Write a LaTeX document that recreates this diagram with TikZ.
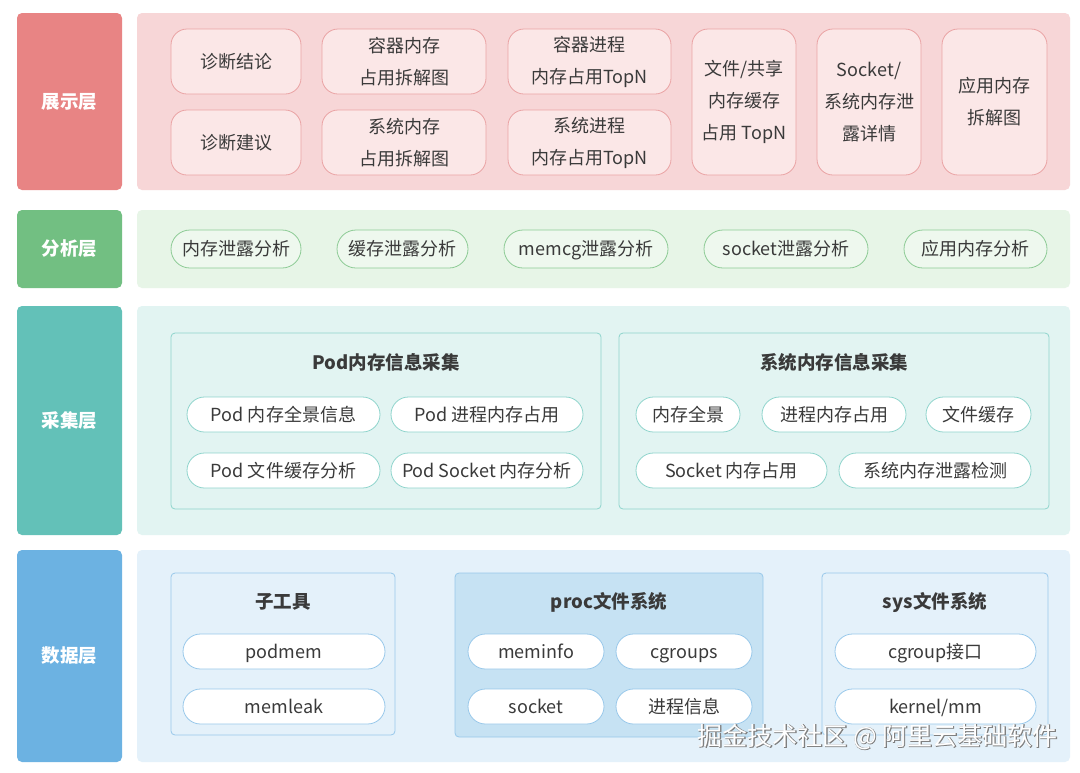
\documentclass[tikz,border=0pt]{standalone}
\usepackage{fontspec}
\setmainfont{Noto Sans CJK SC}
\newfontfamily\wmout{Noto Sans CJK SC}[FakeBold=3]
\usetikzlibrary{positioning}
\definecolor{txt}{HTML}{3A3A3A}
\definecolor{redL}{HTML}{E88484}
\definecolor{redP}{HTML}{F7D6D7}
\definecolor{redB}{HTML}{FBE7E7}
\definecolor{redE}{HTML}{EAA3A4}
\definecolor{grnL}{HTML}{72BF82}
\definecolor{grnP}{HTML}{E7F5E7}
\definecolor{grnB}{HTML}{EEF8EE}
\definecolor{grnE}{HTML}{8DCB95}
\definecolor{tealL}{HTML}{63C1B8}
\definecolor{tealP}{HTML}{E2F4F2}
\definecolor{tealE}{HTML}{8ED4CC}
\definecolor{bluL}{HTML}{6CB2E2}
\definecolor{bluP}{HTML}{E4F1FA}
\definecolor{bluD}{HTML}{C6E2F3}
\definecolor{bluE}{HTML}{98C8EA}
\tikzset{
  f/.style={font=\fontsize{18}{32}\selectfont},
  pf/.style={font=\fontsize{18}{32}\selectfont, text height=15pt, text depth=1.5pt},
  lab/.style={rounded corners=5pt, text=white, inner sep=0pt, minimum width=105,
    font=\bfseries\fontsize{18.5}{22}\selectfont},
  panel/.style={rounded corners=5pt, inner sep=0pt, minimum width=933},
  tbox/.style={draw=redE, fill=redB, line width=0.8pt, rounded corners=16pt, text=txt,
    inner sep=0pt, align=center, f},
  gpill/.style={draw=grnE, fill=grnB, line width=0.8pt, rounded corners=19pt, text=txt,
    inner sep=0pt, minimum height=38, pf},
  tpill/.style={draw=tealE, fill=white, line width=0.8pt, rounded corners=17.5pt, text=txt,
    inner sep=0pt, minimum height=35, pf},
  bpill/.style={draw=bluE, fill=white, line width=0.8pt, rounded corners=17.5pt, text=txt,
    inner sep=0pt, minimum height=35, pf},
  grp/.style={rounded corners=4pt, line width=0.8pt, inner sep=0pt},
  gtitle/.style={text=txt, inner sep=0pt, text height=15pt, text depth=1.5pt,
    font=\bfseries\fontsize{18.5}{22}\selectfont},
}
\begin{document}
\begin{tikzpicture}[x=1pt,y=-1pt]
\useasboundingbox[fill=white] (0,0) rectangle (1080,772);
% layer labels
\node[lab, fill=redL, minimum height=177] (L1) at (69.5,101.5) {展示层};
\node[lab, fill=grnL, minimum height=78] (L2) at (69.5,249) {分析层};
\node[lab, fill=tealL, minimum height=229] (L3) at (69.5,420.5) {采集层};
\node[lab, fill=bluL, minimum height=212] (L4) at (69.5,656) {数据层};
% panels
\node[panel, fill=redP, minimum height=177] (P1) at (603.5,101.5) {};
\node[panel, fill=grnP, minimum height=78] (P2) at (603.5,249) {};
\node[panel, fill=tealP, minimum height=229] (P3) at (603.5,420.5) {};
\node[panel, fill=bluP, minimum height=212] (P4) at (603.5,656) {};
% presentation layer
\node[tbox, minimum width=130, minimum height=65] (a1) at (236,61.5) {诊断结论};
\node[tbox, minimum width=130, minimum height=65] (a2) at (236,142.5) {诊断建议};
\node[tbox, minimum width=164, minimum height=65] (a3) at (404,61.5) {容器内存\\占用拆解图};
\node[tbox, minimum width=164, minimum height=65] (a4) at (404,142.5) {系统内存\\占用拆解图};
\node[tbox, minimum width=163, minimum height=65] (a5) at (589.5,61.5) {容器进程\\内存占用TopN};
\node[tbox, minimum width=163, minimum height=65] (a6) at (589.5,142.5) {系统进程\\内存占用TopN};
\node[tbox, minimum width=104, minimum height=146] (a7) at (744,102) {文件/共享\\内存缓存\\占用 TopN};
\node[tbox, minimum width=104, minimum height=146] (a8) at (869,102) {Socket/\\系统内存泄\\露详情};
\node[tbox, minimum width=105, minimum height=146] (a9) at (994.5,102) {应用内存\\拆解图};
% analysis layer
\node[gpill, minimum width=130] (b1) at (236,249) {内存泄露分析};
\node[gpill, minimum width=131] (b2) at (402.5,249) {缓存泄露分析};
\node[gpill, minimum width=164] (b3) at (586,249) {memcg泄露分析};
\node[gpill, minimum width=164] (b4) at (786,249) {socket泄露分析};
\node[gpill, minimum width=143] (b5) at (975.5,249) {应用内存分析};
% collection layer
\node[grp, draw=tealE, fill=tealP, minimum width=430, minimum height=176] (g1) at (386,421) {};
\node[gtitle] (g1t) at (386,363) {Pod内存信息采集};
\node[tpill, minimum width=193] (c1) at (283.5,414.5) {Pod 内存全景信息};
\node[tpill, minimum width=192] (c2) at (487,414.5) {Pod 进程内存占用};
\node[tpill, minimum width=193] (c3) at (283.5,470.5) {Pod 文件缓存分析};
\node[tpill, minimum width=192] (c4) at (487,470.5) {Pod Socket 内存分析};
\node[grp, draw=tealE, fill=tealP, minimum width=430, minimum height=176] (g2) at (834,421) {};
\node[gtitle] (g2t) at (834,363) {系统内存信息采集};
\node[tpill, minimum width=104] (c5) at (688,414.5) {内存全景};
\node[tpill, minimum width=144] (c6) at (834,414.5) {进程内存占用};
\node[tpill, minimum width=105] (c7) at (978.5,414.5) {文件缓存};
\node[tpill, minimum width=191] (c8) at (731.5,470.5) {Socket 内存占用};
\node[tpill, minimum width=192] (c9) at (935,470.5) {系统内存泄露检测};
% data layer
\node[grp, draw=bluE, fill=bluP, minimum width=224, minimum height=162] (h1) at (283,654) {};
\node[gtitle] (h1t) at (283,602) {子工具};
\node[bpill, minimum width=202] (d1) at (284,651.5) {podmem};
\node[bpill, minimum width=202] (d2) at (284,706.5) {memleak};
\node[grp, draw=bluE, fill=bluD, minimum width=308, minimum height=164] (h2) at (609,655) {};
\node[gtitle] (h2t) at (609,602) {proc文件系统};
\node[bpill, minimum width=136] (d3) at (536,651.5) {meminfo};
\node[bpill, minimum width=136] (d4) at (684,651.5) {cgroups};
\node[bpill, minimum width=136] (d5) at (536,706.5) {socket};
\node[bpill, minimum width=136] (d6) at (684,706.5) {进程信息};
\node[grp, draw=bluE, fill=bluP, minimum width=226, minimum height=162] (h3) at (935,654) {};
\node[gtitle] (h3t) at (935,602) {sys文件系统};
\node[bpill, minimum width=201] (d7) at (935.5,651.5) {cgroup接口};
\node[bpill, minimum width=201] (d8) at (935.5,706.5) {kernel/mm};
% watermark
\node[anchor=east, inner sep=0pt, text=black!50, font=\wmout\fontsize{25}{28}\selectfont] (wm0) at (1058,737) {掘金技术社区 @ 阿里云基础软件};
\node[anchor=east, inner sep=0pt, text=white, font=\fontsize{25}{28}\selectfont] (wm) at (1058,737) {掘金技术社区 @ 阿里云基础软件};
\end{tikzpicture}
\end{document}
